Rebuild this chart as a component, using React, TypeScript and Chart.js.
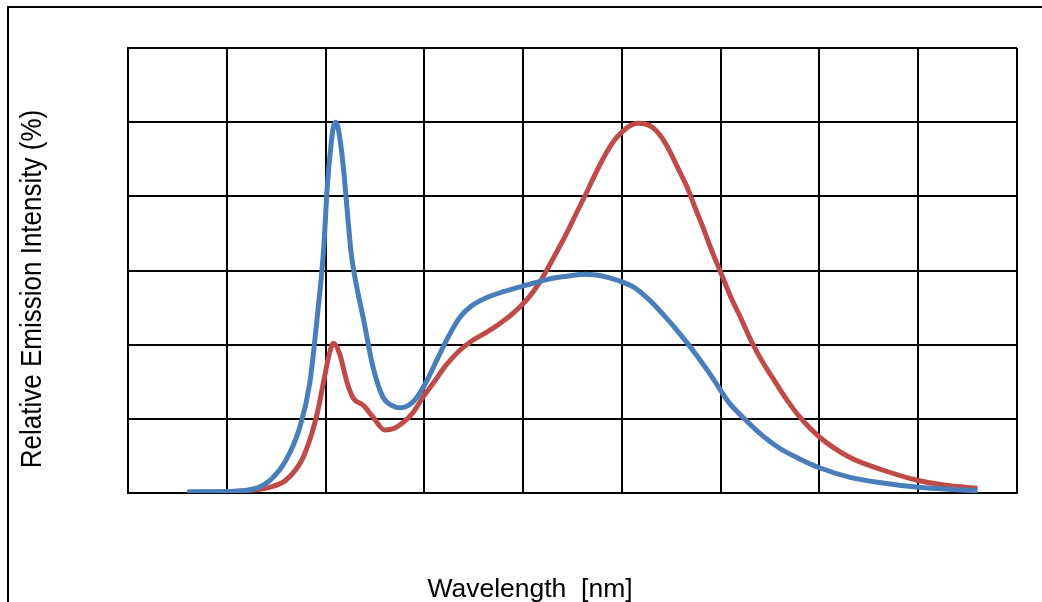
import React, { useEffect, useRef } from "react";
import { Chart, registerables } from "chart.js";

Chart.register(...registerables);

const xTicks = [350, 400, 450, 500, 550, 600, 650, 700, 750, 800];
const yTicks = [0, 20, 40, 60, 80, 100, 120];

const blueWavelengths = [380, 400, 413, 422, 430, 437, 442, 446, 449, 451, 453, 454, 455, 456, 457, 459, 461, 463, 466, 469, 474, 479, 484, 488, 492, 496, 501, 506, 512, 518, 524, 532, 540, 548, 556, 565, 574, 582, 590, 598, 606, 614, 622, 630, 638, 646, 654, 662, 670, 680, 690, 700, 715, 732, 749, 765, 780];
const blueIntensity = [0.3, 0.4, 1.0, 3.5, 8.9, 17.8, 29.6, 48.5, 65.5, 83.6, 95, 98.8, 100, 99.2, 96.5, 88, 76, 64.5, 55, 47.4, 34, 25.9, 23.5, 23, 23.6, 25.6, 30, 35.5, 42, 47.4, 50.5, 52.8, 54.3, 55.5, 56.7, 57.9, 58.6, 59, 58.5, 57.3, 55.5, 52, 47.5, 42.5, 37, 31, 24.5, 20, 16, 12, 9.2, 6.8, 4.3, 2.7, 1.6, 1.0, 0.6];

const redWavelengths = [380, 400, 413, 422, 430, 438, 443, 446, 449, 452, 454, 457, 461, 464, 469, 474, 480, 485, 489, 494, 499, 505, 511, 518, 524, 532, 539, 545, 553, 558, 562, 567, 572, 577, 582, 587, 592, 596, 600, 604, 608, 612, 616, 620, 624, 628, 633, 637, 641, 645, 650, 655, 660, 666, 671, 676, 683, 690, 700, 715, 732, 749, 765, 780];
const redIntensity = [0.2, 0.3, 0.8, 1.6, 3.5, 8.9, 16, 22, 30, 37.7, 40.4, 37.7, 29.6, 25.6, 23.7, 20.5, 17, 17.5, 18.9, 21.5, 25.6, 30, 34.5, 38.5, 41, 43.5, 46, 48.5, 52.8, 56.5, 60.1, 65, 70, 75.5, 80.9, 86.5, 91.6, 95, 97.3, 99, 99.7, 99.5, 98.4, 96, 92.4, 88, 82.5, 77, 71.7, 66, 59.5, 53, 47.4, 40.4, 35.5, 31.3, 25.5, 20.5, 15.1, 9.7, 6.2, 3.5, 2.0, 1.3];

const xTitle = "Wavelength  [nm]";
const yTitle = "Relative Emission Intensity (%)";

const decorPlugin = {
  id: "decor",
  afterDraw(chart: any) {
    const ctx = chart.ctx;
    ctx.save();
    ctx.strokeStyle = "#000";
    ctx.lineWidth = 2;
    ctx.strokeRect(8, 7, 1200, 800);
    ctx.fillStyle = "#000";
    ctx.textAlign = "center";
    ctx.textBaseline = "alphabetic";
    ctx.save();
    ctx.font = '25px "Liberation Sans", Arial, sans-serif';
    ctx.translate(530, 597);
    ctx.scale(1.06, 1);
    ctx.fillText(xTitle, 0, 0);
    ctx.restore();
    ctx.save();
    ctx.font = '26px "Liberation Sans", Arial, sans-serif';
    ctx.translate(41, 289);
    ctx.rotate(-Math.PI / 2);
    ctx.scale(1, 1.12);
    ctx.fillText(yTitle, 0, 0);
    ctx.restore();
    ctx.restore();
  },
};

export default function App() {
  const ref = useRef<HTMLCanvasElement>(null);
  useEffect(() => {
    if (!ref.current) return;
    const chart = new Chart(ref.current, {
      type: "line",
      data: {
        datasets: [
          {
            label: "Blue",
            data: blueWavelengths.map((x, i) => ({ x, y: blueIntensity[i] })),
            borderColor: "#4A7EBB",
            borderWidth: 5,
            pointRadius: 0,
            fill: false,
            cubicInterpolationMode: "monotone",
          },
          {
            label: "Red",
            data: redWavelengths.map((x, i) => ({ x, y: redIntensity[i] })),
            borderColor: "#BE4B48",
            borderWidth: 5,
            pointRadius: 0,
            fill: false,
            cubicInterpolationMode: "monotone",
          },
        ],
      },
      options: {
        animation: false,
        responsive: false,
        layout: { padding: { left: 128, right: 25, top: 48, bottom: 109 } },
        plugins: { legend: { display: false }, tooltip: { enabled: false } },
        scales: {
          x: {
            type: "linear",
            min: xTicks[0],
            max: xTicks[xTicks.length - 1],
            afterBuildTicks: (s: any) => {
              s.ticks = xTicks.map((v) => ({ value: v }));
            },
            afterFit: (s: any) => {
              s.height = 0;
            },
            ticks: { display: false },
            grid: { color: "#000", lineWidth: 2, drawTicks: false },
            border: { color: "#000", width: 2 },
          },
          y: {
            type: "linear",
            min: yTicks[0],
            max: yTicks[yTicks.length - 1],
            afterBuildTicks: (s: any) => {
              s.ticks = yTicks.map((v) => ({ value: v }));
            },
            afterFit: (s: any) => {
              s.width = 0;
            },
            ticks: { display: false },
            grid: { color: "#000", lineWidth: 2, drawTicks: false },
            border: { color: "#000", width: 2 },
          },
        },
      },
      plugins: [decorPlugin],
    });
    return () => chart.destroy();
  }, []);
  return (
    <div style={{ position: "absolute", left: 0, top: 0, width: 1042, height: 602 }}>
      <canvas ref={ref} width={1042} height={602} style={{ display: "block" }} />
    </div>
  );
}
